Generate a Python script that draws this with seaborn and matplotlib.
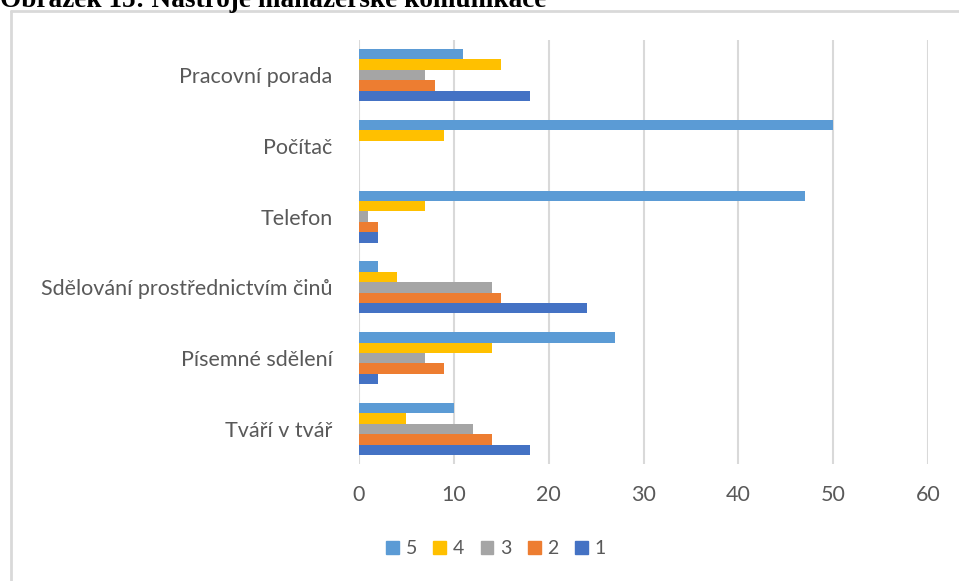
import matplotlib
matplotlib.use("Agg")
import matplotlib.pyplot as plt
import matplotlib.patches as mpatches
from matplotlib.lines import Line2D
import seaborn as sns
import pandas as pd

categories = ["Pracovní porada", "Počítač", "Telefon",
              "Sdělování prostřednictvím činů", "Písemné sdělení", "Tváří v tvář"]
series_names = ["5", "4", "3", "2", "1"]
s5 = [11, 50, 47, 2, 27, 10]
s4 = [15, 9, 7, 4, 14, 5]
s3 = [7, 0, 1, 14, 7, 12]
s2 = [8, 0, 2, 15, 9, 14]
s1 = [18, 0, 2, 24, 2, 18]
colors = ["#5B9BD5", "#FFC000", "#A5A5A5", "#ED7D31", "#4472C4"]
xticks = [0, 10, 20, 30, 40, 50, 60]
title = "Obrázek 15: Nástroje manažerské komunikace"

rows = []
for name, vals in zip(series_names, [s5, s4, s3, s2, s1]):
    for c, v in zip(categories, vals):
        rows.append({"category": c, "series": name, "value": v})
df = pd.DataFrame(rows)

sns.set_theme(style="white")
plt.rcParams["font.family"] = ["Lato", "DejaVu Sans"]

fig = plt.figure(figsize=(9.59, 5.81), dpi=100)
ax = fig.add_axes([359 / 959, 1 - 464.4 / 581, (928 - 359) / 959, (464.4 - 39.6) / 581])

sns.barplot(data=df, x="value", y="category", hue="series", order=categories,
            hue_order=series_names, palette=colors, width=0.733, orient="h",
            linewidth=0, saturation=1, ax=ax, legend=False)

ax.set_xlim(0, 60)
ax.set_xticks(xticks)
ax.set_xticklabels([str(t) for t in xticks])
ax.set_xlabel("")
ax.set_ylabel("")
for s in ax.spines.values():
    s.set_visible(False)
ax.grid(axis="x", color="#d9d9d9", linewidth=1.5)
ax.grid(axis="y", visible=False)
ax.set_axisbelow(True)
ax.tick_params(axis="x", length=0, pad=15, labelsize=15.5, labelcolor="#595959")
ax.tick_params(axis="y", length=0, pad=19, labelsize=15.5, labelcolor="#595959")

handles = [mpatches.Patch(color=c, label=n) for c, n in zip(colors, series_names)]
fig.legend(handles=handles, loc="center", bbox_to_anchor=(496 / 959, 1 - 549 / 581),
           ncol=5, frameon=False, fontsize=14, handlelength=0.65, handleheight=0.65,
           handletextpad=0.35, columnspacing=0.85, labelcolor="#595959")

# frame of the chart
fig.add_artist(Line2D([11 / 959, 1.0], [1 - 11 / 581, 1 - 11 / 581],
                      transform=fig.transFigure, color="#d9d9d9", linewidth=2))
fig.add_artist(Line2D([11 / 959, 11 / 959], [1 - 11 / 581, 0],
                      transform=fig.transFigure, color="#d9d9d9", linewidth=2))

fig.text(0, 1 - 7 / 581, title, family=["Liberation Serif", "DejaVu Serif"],
         fontweight="bold", fontsize=19.6, va="baseline", ha="left", color="black")

fig.savefig("out.png", dpi=100)
